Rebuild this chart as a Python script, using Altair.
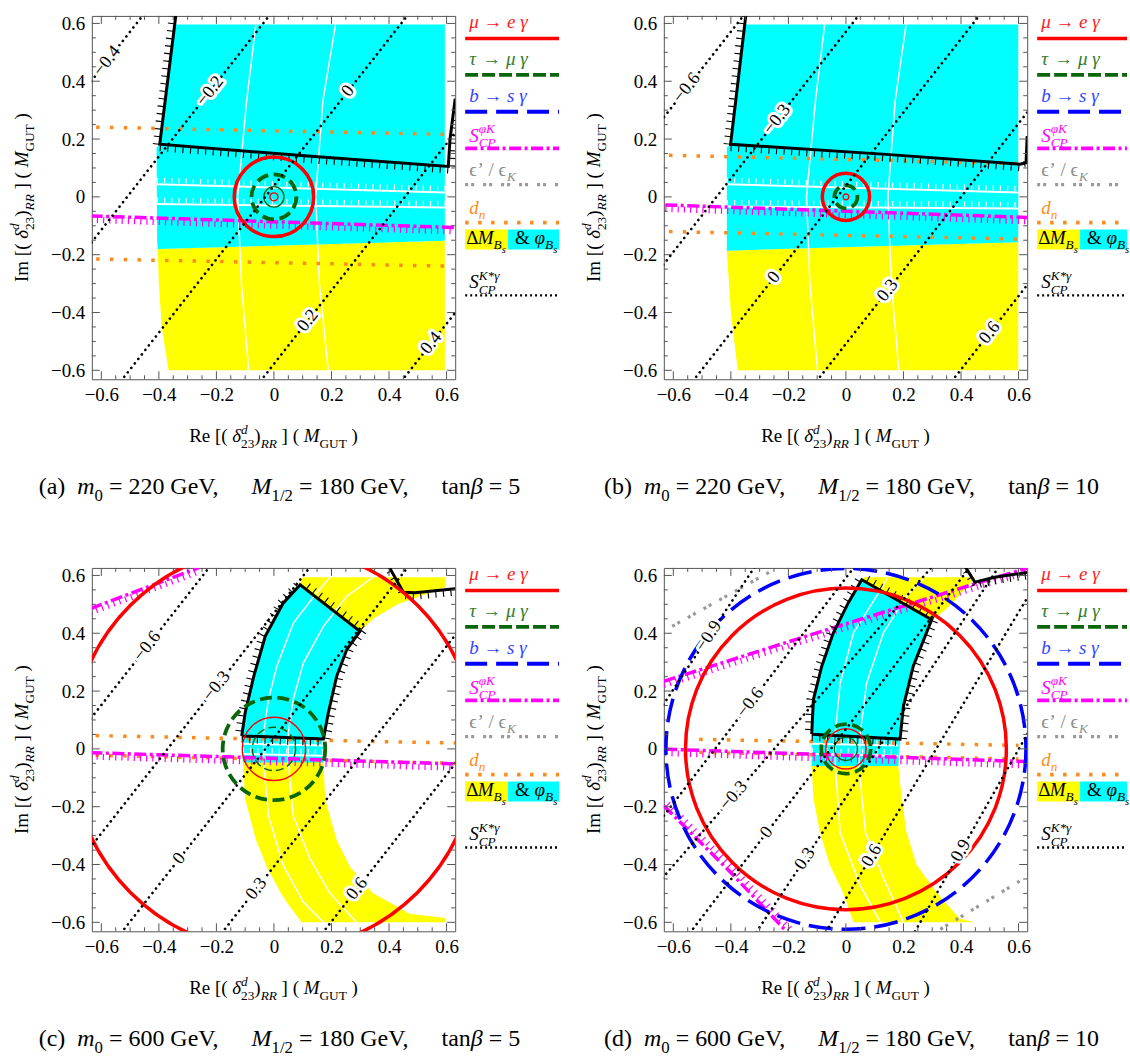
import math
import altair as alt
import pandas as pd

# ---------------------------------------------------------------- layout
SERIF = "Liberation Serif"
FRAME = "#555555"
W = H = 364
GAP = 10
LEG_W = [189, 90]
ROW_GAP = 189
PXU = 288.5

XDOM = [-0.633, 0.630]
YDOM = [-0.631, 0.626]
MAJOR_TICKS = [-0.6, -0.4, -0.2, 0.0, 0.2, 0.4, 0.6]
MINOR_TICKS = [-0.55, -0.5, -0.45, -0.35, -0.3, -0.25, -0.15, -0.1, -0.05,
               0.05, 0.1, 0.15, 0.25, 0.3, 0.35, 0.45, 0.5, 0.55]

RED, GREEN, BLUE = "#ff0000", "#0b650b", "#0000ff"
MAGENTA, GRAY, ORANGE = "#ff00ff", "#999999", "#ff8a1c"
YELLOW, CYAN = "#ffff00", "#00ffff"

CAPTION_TAG = ["(a)", "(b)", "(c)", "(d)"]
CAPTION_M0 = [220, 220, 600, 600]
CAPTION_M12 = [180, 180, 180, 180]
CAPTION_TANB = [5, 10, 5, 10]

# ---------------------------------------------------------------- panel (a)
A_YELLOW = [(-0.600, -0.366, 0.594), (-0.450, -0.390, 0.594), (-0.300, -0.400, 0.594),
            (-0.180, -0.404, 0.594), (-0.152, 0.594, 0.594)]
A_CYAN = [(-0.180, -0.404, -0.404), (-0.152, -0.406, 0.594), (0.170, -0.408, 0.594),
          (0.182, -0.397, 0.594), (0.596, -0.343, 0.594)]
A_WHITE_V = [[(-0.063, 0.596), (-0.095, 0.331), (-0.126, 0.0), (-0.113, -0.302), (-0.088, -0.600)],
             [(0.214, 0.596), (0.170, 0.331), (0.145, 0.0), (0.158, -0.302), (0.189, -0.600)]]
A_WHITE_H = [[(-0.407, 0.044), (0.594, 0.015)], [(-0.407, -0.025), (0.594, -0.037)]]
A_BOUND = [[(-0.341, 0.628), (-0.397, 0.182), (0.118, 0.141), (0.606, 0.105), (0.612, 0.200), (0.630, 0.340)]]
A_MAGENTA = [[(-0.637, -0.066), (0.630, -0.106)]]
A_ORANGE = [[(-0.618, 0.241), (0.614, 0.216)], [(-0.618, -0.215), (0.614, -0.240)]]
A_GRAY = []
A_CIRCLES = [("red", 0.138), ("green_dash", 0.078), ("green_thin", 0.035), ("red_thin", 0.014)]
A_SCP = [("−0.4", -0.580, 0.470, 1.27), ("−0.2", -0.222, 0.366, 1.27), ("0", 0.258, 0.366, 1.27),
         ("0.2", 0.118, -0.428, 1.27), ("0.4", 0.547, -0.506, 1.27)]

# ---------------------------------------------------------------- panel (b)
B_YELLOW = [(-0.600, -0.376, 0.599), (-0.400, -0.400, 0.599), (-0.186, -0.414, 0.599),
            (-0.157, 0.599, 0.599)]
B_CYAN = [(-0.186, -0.414, -0.414), (-0.157, -0.414, 0.599), (0.170, -0.414, 0.599),
          (0.182, -0.401, 0.599), (0.596, -0.352, 0.599)]
B_WHITE_V = [[(-0.074, 0.596), (-0.106, 0.331), (-0.137, 0.0), (-0.125, -0.302), (-0.099, -0.600)],
             [(0.209, 0.596), (0.171, 0.331), (0.146, 0.0), (0.158, -0.302), (0.184, -0.600)]]
B_WHITE_H = [[(-0.414, 0.044), (0.599, 0.015)], [(-0.414, -0.033), (0.599, -0.040)]]
B_BOUND = [[(-0.348, 0.628), (-0.401, 0.182), (0.140, 0.147), (0.605, 0.113), (0.626, 0.118), (0.630, 0.210)]]
B_MAGENTA = [[(-0.628, -0.028), (0.630, -0.071)]]
B_ORANGE = [[(-0.615, 0.144), (0.600, 0.115)], [(-0.615, -0.120), (0.600, -0.146)]]
B_GRAY = []
B_CIRCLES = [("red", 0.082), ("green_dash", 0.040), ("red_thin", 0.010)]
B_SCP = [("−0.6", -0.553, 0.377, 1.27), ("−0.3", -0.239, 0.268, 1.27), ("0", -0.250, -0.279, 1.27),
         ("0.3", 0.145, -0.324, 1.27), ("0.6", 0.500, -0.470, 1.27)]

# ---------------------------------------------------------------- panel (c)
C_YELLOW = [(-0.600, 0.096, 0.596), (-0.585, 0.085, 0.596), (-0.570, 0.074, 0.470),
            (-0.530, 0.044, 0.400), (-0.500, 0.025, 0.345), (-0.408, -0.025, 0.264),
            (-0.316, -0.062, 0.218), (-0.174, -0.100, 0.178), (-0.047, -0.108, 0.172),
            (0.045, -0.112, 0.172), (0.125, -0.100, 0.189), (0.251, -0.070, 0.218),
            (0.343, -0.045, 0.253), (0.407, -0.020, 0.299), (0.450, 0.000, 0.345),
            (0.500, 0.028, 0.430), (0.560, 0.085, 0.596), (0.594, 0.100, 0.596)]
C_CYAN = [(-0.047, -0.108, 0.172), (0.045, -0.112, 0.172), (0.125, -0.100, 0.189),
          (0.251, -0.070, 0.218), (0.343, -0.045, 0.253), (0.407, -0.020, 0.299),
          (0.450, 0.000, 0.243), (0.504, 0.032, 0.174), (0.540, 0.062, 0.127), (0.568, 0.091, 0.091)]
C_WHITE_V = [[(0.172, -0.600), (0.102, -0.530), (0.032, -0.402), (-0.019, -0.231), (-0.036, -0.047),
              (-0.036, 0.056), (-0.019, 0.171), (0.010, 0.286), (0.068, 0.436), (0.148, 0.539), (0.195, 0.594)],
             [(0.287, -0.600), (0.195, -0.500), (0.125, -0.380), (0.067, -0.231), (0.050, -0.047),
              (0.050, 0.056), (0.067, 0.171), (0.102, 0.297), (0.172, 0.424), (0.253, 0.528), (0.345, 0.594)]]
C_WHITE_H = [[(-0.108, 0.018), (0.172, 0.012)], [(-0.108, -0.018), (0.172, -0.024)]]
C_BOUND = [[(-0.112, 0.045), (0.172, 0.034), (0.189, 0.125), (0.218, 0.251), (0.253, 0.343), (0.299, 0.407),
            (0.091, 0.568), (0.032, 0.504), (-0.030, 0.390), (-0.070, 0.252), (-0.100, 0.125), (-0.112, 0.045)],
           [(0.401, 0.628), (0.450, 0.542), (0.490, 0.540), (0.630, 0.554)]]
C_MAGENTA = [[(-0.638, -0.013), (0.630, -0.052)], [(-0.638, 0.485), (-0.259, 0.628)]]
C_ORANGE = [[(-0.620, 0.046), (0.630, 0.020)], [(-0.620, -0.022), (0.630, -0.050)]]
C_GRAY = []
C_CIRCLES = [("red", 0.705), ("red_thin", 0.110), ("green_dash", 0.178), ("green_thin_dash", 0.075)]
C_SCP = [("−0.6", -0.440, 0.355, 1.27), ("−0.3", -0.199, 0.217, 1.27), ("0", -0.329, -0.380, 1.27),
         ("0.3", -0.061, -0.484, 1.27), ("0.6", 0.289, -0.484, 1.27)]

# ---------------------------------------------------------------- panel (d)
D_YELLOW = [(-0.600, 0.026, 0.448), (-0.588, 0.022, 0.396), (-0.497, -0.010, 0.315),
            (-0.400, -0.057, 0.245), (-0.286, -0.091, 0.210), (-0.172, -0.113, 0.194),
            (-0.059, -0.119, 0.182), (0.034, -0.119, 0.188), (0.148, -0.114, 0.200),
            (0.286, -0.084, 0.234), (0.401, -0.044, 0.280), (0.447, -0.022, 0.298),
            (0.480, -0.005, 0.344), (0.505, 0.008, 0.370), (0.585, 0.055, 0.443), (0.594, 0.062, 0.448)]
D_CYAN = [(-0.059, -0.119, 0.182), (0.034, -0.119, 0.188), (0.148, -0.114, 0.200),
          (0.286, -0.084, 0.234), (0.401, -0.044, 0.280), (0.447, -0.022, 0.298),
          (0.480, -0.005, 0.240), (0.505, 0.008, 0.196), (0.545, 0.032, 0.125), (0.585, 0.055, 0.055)]
D_WHITE_V = [[(0.120, -0.600), (0.050, -0.473), (-0.020, -0.290), (-0.037, -0.060), (-0.037, 0.055),
              (-0.020, 0.228), (0.026, 0.401), (0.120, 0.550), (0.143, 0.590)],
             [(0.200, -0.600), (0.132, -0.450), (0.068, -0.290), (0.045, -0.060), (0.050, 0.055),
              (0.072, 0.228), (0.130, 0.401), (0.210, 0.527), (0.269, 0.590)]]
D_WHITE_H = [[(-0.119, 0.018), (0.182, 0.012)], [(-0.119, -0.018), (0.182, -0.024)]]
D_BOUND = [[(-0.119, 0.051), (0.188, 0.034), (0.200, 0.148), (0.234, 0.286), (0.298, 0.447),
            (0.055, 0.585), (0.008, 0.505), (-0.044, 0.401), (-0.084, 0.286), (-0.113, 0.171), (-0.119, 0.051)],
           [(0.416, 0.628), (0.448, 0.577), (0.517, 0.594), (0.630, 0.610)]]
D_MAGENTA = [[(-0.628, -0.001), (0.630, -0.044)],
             [(-0.633, 0.234), (-0.090, 0.405), (0.494, 0.585), (0.630, 0.625)],
             [(-0.633, -0.197), (-0.402, -0.426), (-0.205, -0.633)]]
D_ORANGE = [[(-0.510, 0.033), (0.600, 0.012)], [(-0.510, -0.012), (0.600, -0.035)]]
D_GRAY = [[(-0.604, 0.424), (-0.260, 0.615)], [(0.328, -0.624), (0.605, -0.457)]]
D_CIRCLES = [("blue_dash", 0.625), ("red", 0.557), ("green_dash", 0.086), ("red_thin", 0.070),
             ("green_thin", 0.040)]
D_SCP = [("−0.9", -0.477, 0.390, 1.50), ("−0.6", -0.332, 0.160, 1.30), ("−0.3", -0.390, -0.162, 1.15),
         ("0", -0.275, -0.289, 1.30), ("0.3", -0.142, -0.380, 1.50), ("0.6", 0.090, -0.369, 1.65),
         ("0.9", 0.400, -0.352, 1.75)]

# hatch styling (polyline index, first point, last point, x offset px, y offset px)
HATCH = {
    "a": [(0, 0, 1, -4, 0), (0, 1, 3, 0, 4), (0, 3, 5, 4, 0)],
    "b": [(0, 0, 1, -4, 0), (0, 1, 3, 0, 4), (0, 3, 5, 4, 0)],
    "c": [(0, 0, 1, 0, 4), (0, 1, 5, 4, 0), (0, 5, 6, 3, -3), (0, 6, 11, -4, 0), (1, 0, 3, 0, 4)],
    "d": [(0, 0, 1, 0, 4), (0, 1, 4, 4, 0), (0, 4, 5, 3, -3), (0, 5, 10, -4, 0), (1, 0, 3, 0, 4)],
}
MAG_HATCH = {"a": [(0, 4)], "b": [(0, 4)], "c": [(0, 4), (0, 4)], "d": [(0, 4), (0, 4), (4, -2)]}

PANELS = {
    "a": dict(yellow=A_YELLOW, cyan=A_CYAN, white_v=A_WHITE_V, white_h=A_WHITE_H, bound=A_BOUND,
              magenta=A_MAGENTA, orange=A_ORANGE, gray=A_GRAY, circles=A_CIRCLES, scp=A_SCP),
    "b": dict(yellow=B_YELLOW, cyan=B_CYAN, white_v=B_WHITE_V, white_h=B_WHITE_H, bound=B_BOUND,
              magenta=B_MAGENTA, orange=B_ORANGE, gray=B_GRAY, circles=B_CIRCLES, scp=B_SCP),
    "c": dict(yellow=C_YELLOW, cyan=C_CYAN, white_v=C_WHITE_V, white_h=C_WHITE_H, bound=C_BOUND,
              magenta=C_MAGENTA, orange=C_ORANGE, gray=C_GRAY, circles=C_CIRCLES, scp=C_SCP),
    "d": dict(yellow=D_YELLOW, cyan=D_CYAN, white_v=D_WHITE_V, white_h=D_WHITE_H, bound=D_BOUND,
              magenta=D_MAGENTA, orange=D_ORANGE, gray=D_GRAY, circles=D_CIRCLES, scp=D_SCP),
}

CIRCLE_STYLE = {
    "red": dict(color=RED, strokeWidth=3.5),
    "red_thin": dict(color=RED, strokeWidth=1.4),
    "green_dash": dict(color=GREEN, strokeWidth=3.8, strokeDash=[12, 5.5]),
    "green_thin": dict(color=GREEN, strokeWidth=1.3),
    "green_thin_dash": dict(color=GREEN, strokeWidth=1.5, strokeDash=[8, 4]),
    "blue_dash": dict(color=BLUE, strokeWidth=3.5, strokeDash=[24, 9]),
}

# ---------------------------------------------------------------- helpers
XS = alt.Scale(domain=XDOM, nice=False, zero=False)
YS = alt.Scale(domain=YDOM, nice=False, zero=False)
SZ = alt.Scale(type="pow", exponent=2, domain=[0, 1], range=[0, (2 * PXU) ** 2])
AXX = alt.Axis(values=MAJOR_TICKS, format="~g", ticks=False, domain=False, grid=False, title=None,
               labelPadding=6, labelFontSize=19, labelFont=SERIF, labelColor="black",
               labelFlush=False, labelOverlap=False)
AXY = alt.Axis(values=MAJOR_TICKS, format="~g", ticks=False, domain=False, grid=False, title=None,
               labelPadding=7, labelFontSize=19, labelFont=SERIF, labelColor="black",
               labelFlush=False, labelOverlap=False)


def X(f):
    return alt.X(f"{f}:Q", scale=XS, axis=AXX, title=None)


def Y(f):
    return alt.Y(f"{f}:Q", scale=YS, axis=AXY, title=None)


def poly_df(lines):
    rows = []
    for g, pts in enumerate(lines):
        for i, (x, y) in enumerate(pts):
            rows.append(dict(g=g, i=i, x=x, y=y))
    return pd.DataFrame(rows)


def lines_layer(lines, color, width, dash=None, cap="butt", xoff=0, yoff=0):
    kw = dict(clip=True, color=color, strokeWidth=width, strokeCap=cap, opacity=1)
    if dash:
        kw["strokeDash"] = dash
    if xoff:
        kw["xOffset"] = xoff
    if yoff:
        kw["yOffset"] = yoff
    return alt.Chart(poly_df(lines)).mark_line(**kw).encode(
        x=X("x"), y=Y("y"), detail="g:N", order="i:Q")


def band_layer(rows, color):
    df = pd.DataFrame(rows, columns=["y", "xl", "xr"])
    return alt.Chart(df).mark_area(orient="horizontal", clip=True, color=color, opacity=1).encode(
        y=Y("y"), x=X("xl"), x2="xr:Q")


def circle_layers(circles):
    out = []
    for style, r in circles:
        df = pd.DataFrame([dict(cx=0.0, cy=0.0, r=r)])
        kw = dict(clip=True, filled=False, shape="circle", opacity=1)
        kw.update(CIRCLE_STYLE[style])
        out.append(alt.Chart(df).mark_point(**kw).encode(
            x=X("cx"), y=Y("cy"), size=alt.Size("r:Q", scale=SZ, legend=None)))
    return out


def scp_layers(scp):
    segs, labs = [], []
    for lab, lx, ly, s in scp:
        segs.append([(lx + (-0.7 - ly) / s, -0.7), (lx + (0.7 - ly) / s, 0.7)])
        labs.append(dict(lx=lx, ly=ly, t=lab, ang=360 - math.degrees(math.atan(s))))
    ldf = pd.DataFrame(labs)
    enc = dict(x=X("lx"), y=Y("ly"), text="t:N", angle=alt.Angle("ang:Q", scale=None))
    return [
        lines_layer(segs, "black", 2.6, dash=[0.1, 5.6], cap="round"),
        alt.Chart(ldf).mark_text(font=SERIF, fontSize=18, stroke="white", strokeWidth=6,
                                 strokeJoin="round", clip=True).encode(**enc),
        alt.Chart(ldf).mark_text(font=SERIF, fontSize=18, color="black", clip=True).encode(**enc),
    ]


def tick_layers():
    out = []
    for vals, L in ((MAJOR_TICKS, 8), (MINOR_TICKS, 4)):
        base = alt.Chart(pd.DataFrame({"v": vals}))
        rk = dict(color=FRAME, strokeWidth=1)
        out += [
            base.mark_rule(**rk).encode(x=X("v"), y=alt.value(H), y2=alt.value(H - L)),
            base.mark_rule(**rk).encode(x=X("v"), y=alt.value(0), y2=alt.value(L)),
            base.mark_rule(**rk).encode(y=Y("v"), x=alt.value(0), x2=alt.value(L)),
            base.mark_rule(**rk).encode(y=Y("v"), x=alt.value(W), x2=alt.value(W - L)),
        ]
    return out


def plot_panel(key):
    p = PANELS[key]
    L = [band_layer(p["yellow"], YELLOW), band_layer(p["cyan"], CYAN),
         lines_layer(p["white_v"], "white", 1.5),
         lines_layer(p["white_h"], "white", 2),
         lines_layer(p["white_h"], "white", 5, dash=[1.2, 6], yoff=-4)]
    if p["orange"]:
        L.append(lines_layer(p["orange"], ORANGE, 3.5, dash=[3.5, 10.3]))
    if p["gray"]:
        L.append(lines_layer(p["gray"], GRAY, 3.2, dash=[3, 3, 3, 9]))
    for (xo, yo), pts in zip(MAG_HATCH[key], p["magenta"]):
        L.append(lines_layer([pts], MAGENTA, 6, dash=[1.2, 5], xoff=xo, yoff=yo))
    L.append(lines_layer(p["magenta"], MAGENTA, 3.5, dash=[12, 3.5, 3, 3.5]))
    for gi, i0, i1, xo, yo in HATCH[key]:
        L.append(lines_layer([p["bound"][gi][i0:i1 + 1]], "black", 6, dash=[1.1, 6.5], xoff=xo, yoff=yo))
    L.append(lines_layer(p["bound"], "black", 3))
    L += circle_layers(p["circles"])
    L += scp_layers(p["scp"])
    L += tick_layers()
    return alt.layer(*L).properties(width=W, height=H,
                                    view=alt.ViewBackground(stroke=FRAME, strokeWidth=1))


# ---------------------------------------------------------------- rich text
NW = {' ': 0.25, '(': 0.333, ')': 0.333, '[': 0.333, ']': 0.333, '/': 0.278, ',': 0.25, '.': 0.25,
      '=': 0.564, '−': 0.564, 'R': 0.667, 'e': 0.444, 'I': 0.333, 'm': 0.778, 'G': 0.722, 'U': 0.722,
      'T': 0.611, 'V': 0.722, 't': 0.278, 'a': 0.444, 'n': 0.5, '&': 0.778, '→': 1.0, 'Δ': 0.612,
      'ϵ': 0.44, '’': 0.333, 'K': 0.722, 'b': 0.5, 'c': 0.444, 'd': 0.5}
IW = {'δ': 0.46, 'd': 0.5, 'R': 0.611, 'M': 0.833, 'μ': 0.5, 'e': 0.444, 'γ': 0.44, 'τ': 0.44, 'b': 0.5,
      's': 0.389, 'S': 0.5, 'C': 0.667, 'P': 0.611, 'φ': 0.55, 'K': 0.667, 'n': 0.5, 'B': 0.611,
      'm': 0.722, '*': 0.5, 'β': 0.5}


def tw(text, italic):
    tab = IW if italic else NW
    return sum(tab.get(c, NW.get(c, 0.5)) for c in text)


def rich(segs, x0, y0, F, color, anchor="middle", rot=False):
    items, adv, pend = [], 0.0, 0.0
    for text, st in segs:
        stack = st.endswith("!")
        st = st.rstrip("!")
        it = st[0] == "i"
        lv = st[1:]
        if lv == "s":
            fs, sh = 0.7 * F, 0.3 * F
        elif lv == "p":
            fs, sh = 0.7 * F, -0.45 * F
        elif lv == "ss":
            fs, sh = 0.55 * F, 0.5 * F
        else:
            fs, sh = F, 0.0
        w = tw(text, it) * fs
        lead = (len(text) - len(text.lstrip(" "))) * NW[" "] * fs
        items.append((text.strip(" "), it, fs, adv + lead, sh))
        if stack:
            pend = max(pend, w)
        else:
            adv += max(w, pend)
            pend = 0.0
    start = -adv / 2 if anchor == "middle" else 0.0
    rows = []
    for text, it, fs, a, sh in items:
        if not text:
            continue
        if rot:
            rows.append(dict(px=x0 + sh, py=y0 - (start + a), t=text, fs=fs, col=color, ang=270, it=it))
        else:
            rows.append(dict(px=x0 + start + a, py=y0 + sh, t=text, fs=fs, col=color, ang=0, it=it))
    return rows


def axis_title(word):
    return [(word, "n"), (" [(", "n"), (" δ", "i"), ("d", "ip!"), ("23", "ns"), (")", "n"),
            ("RR", "is"), (" ]", "n"), (" (", "n"), (" M", "i"), ("GUT", "ns"), (" )", "n")]


LEGEND_ENTRIES = [
    ([("μ", "i"), (" →", "n"), (" e", "i"), (" γ", "i")], "#ff1a1a", 12),
    ([("τ", "i"), (" →", "n"), (" μ", "i"), (" γ", "i")], "#2d7d2d", 49),
    ([("b", "i"), (" →", "n"), (" s", "i"), (" γ", "i")], "#3344ff", 86),
    ([("S", "i"), ("φK", "ip!"), ("CP", "is")], "#ff00ff", 126),
    ([("ϵ", "n"), ("’", "n"), (" /", "n"), (" ϵ", "n"), ("K", "is")], "#8c8c8c", 160),
    ([("d", "i"), ("n", "is")], "#ff8c1a", 198),
    ([("Δ", "n"), ("M", "i"), ("B", "is"), ("s", "iss")], "black", 228),
    ([("S", "i"), ("K*γ", "ip!"), ("CP", "is")], "black", 273),
]
LEGEND_LINES = [  # y of sample line, colour, width, dash
    (22.7, RED, 3.5, None), (59, GREEN, 3.8, [13, 4]), (96, BLUE, 3.8, [22, 9]),
    (132.7, MAGENTA, 3.8, [12, 3.5, 3, 3.5]), (169, GRAY, 3.2, [3, 3, 3, 9]),
    (207, ORANGE, 3.8, [3.5, 9.5]), (280, "black", 2.4, [2, 3]),
]


def legend_cell(idx, width, anchor=False):
    F = 19
    rows = []
    for segs, col, yb in LEGEND_ENTRIES:
        x0 = 1 if segs[0][0] == "Δ" else 4
        rows += rich(segs, x0, yb, F, col, anchor="start")
    rows += rich([("&", "n"), (" φ", "i"), ("B", "is"), ("s", "iss")], 50, 228, F, "black", anchor="start")
    pc_x = -(W + GAP) + W / 2
    rows += rich(axis_title("Re"), pc_x, 427, 19, "black")
    rows += rich(axis_title("Im"), -(W + GAP) - 64, H / 2, 19, "black", rot=True)
    cap = [(CAPTION_TAG[idx], "n"), ("  m", "i"), ("0", "ns"),
           (f" = {CAPTION_M0[idx]} GeV,", "n"), ("     M", "i"), ("1/2", "ns"),
           (f" = {CAPTION_M12[idx]} GeV,", "n"), ("     tan", "n"), ("β", "i"),
           (f" = {CAPTION_TANB[idx]}", "n")]
    rows += rich(cap, pc_x + 6, 479, 24, "black")
    df = pd.DataFrame(rows)
    tenc = dict(x=alt.X("px:Q", scale=None, axis=None), y=alt.Y("py:Q", scale=None, axis=None),
                text="t:N", size=alt.Size("fs:Q", scale=None, legend=None),
                color=alt.Color("col:N", scale=None, legend=None),
                angle=alt.Angle("ang:Q", scale=None, legend=None))
    L = []
    lx2 = min(94, width)
    for y, col, wd, dash in LEGEND_LINES:
        kw = dict(color=col, strokeWidth=wd)
        if dash:
            kw["strokeDash"] = dash
        L.append(alt.Chart(pd.DataFrame([dict(a=0, b=lx2, y=y)])).mark_rule(**kw).encode(
            x=alt.X("a:Q", scale=None, axis=None), x2="b:Q", y=alt.Y("y:Q", scale=None, axis=None)))
    boxes = pd.DataFrame([dict(a=0, b=43, t=214, u=234, col=YELLOW),
                          dict(a=43, b=lx2, t=214, u=234, col=CYAN)])
    L.insert(0, alt.Chart(boxes).mark_rect().encode(
        x=alt.X("a:Q", scale=None, axis=None), x2="b:Q",
        y=alt.Y("t:Q", scale=None, axis=None), y2="u:Q",
        color=alt.Color("col:N", scale=None, legend=None)))
    if anchor:
        L.insert(0, alt.Chart(pd.DataFrame([dict(a=-(W + GAP) - 92, b=-(W + GAP) - 91, t=-15, u=-14)]))
                 .mark_rect(opacity=0).encode(
                     x=alt.X("a:Q", scale=None, axis=None), x2="b:Q",
                     y=alt.Y("t:Q", scale=None, axis=None), y2="u:Q"))
    L.append(alt.Chart(df[~df["it"]]).mark_text(font=SERIF, align="left", baseline="alphabetic")
             .encode(**tenc))
    L.append(alt.Chart(df[df["it"]]).mark_text(font=SERIF, align="left", baseline="alphabetic",
                                               fontStyle="italic").encode(**tenc))
    return alt.layer(*L).properties(width=width, height=H,
                                    view=alt.ViewBackground(stroke="transparent", strokeWidth=0))


cells = [plot_panel("a"), legend_cell(0, LEG_W[0], anchor=True),
         plot_panel("b"), legend_cell(1, LEG_W[1]),
         plot_panel("c"), legend_cell(2, LEG_W[0]),
         plot_panel("d"), legend_cell(3, LEG_W[1])]
chart = alt.concat(*cells, columns=4, spacing={"row": ROW_GAP, "column": GAP},
                   align="each", bounds="flush").properties(padding=0)
chart = chart.configure(font=SERIF, view=alt.ViewConfig(stroke="transparent"))

chart.save("out.html", embed_options={"renderer": "svg", "actions": False})
